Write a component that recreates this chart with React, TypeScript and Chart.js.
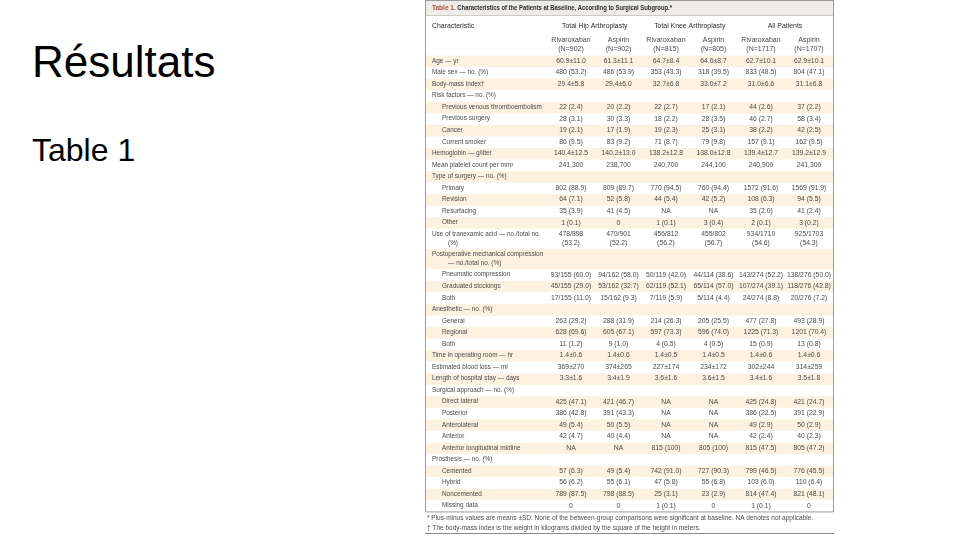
import React, { useEffect, useRef } from 'react';
import { Chart, registerables } from 'chart.js';

Chart.register(...registerables);

// ---------- text content ----------
const slideTitle = 'Résultats';
const slideSubtitle = 'Table 1';
const tableNumber = 'Table 1.';
const tableTitle = ' Characteristics of the Patients at Baseline, According to Surgical Subgroup.*';
const firstHeader = 'Characteristic';
const groupHeaders = ['Total Hip Arthroplasty', 'Total Knee Arthroplasty', 'All Patients'];
const columnHeaders = [
  ['Rivaroxaban', '(N=902)'],
  ['Aspirin', '(N=902)'],
  ['Rivaroxaban', '(N=815)'],
  ['Aspirin', '(N=805)'],
  ['Rivaroxaban', '(N=1717)'],
  ['Aspirin', '(N=1707)'],
];

// ---------- rows ----------
const characteristics: (string | string[])[] = [
  'Age — yr',
  'Male sex — no. (%)',
  'Body-mass index†',
  'Risk factors — no. (%)',
  'Previous venous thromboembolism',
  'Previous surgery',
  'Cancer',
  'Current smoker',
  'Hemoglobin — g/liter',
  'Mean platelet count per mm²',
  'Type of surgery — no. (%)',
  'Primary',
  'Revision',
  'Resurfacing',
  'Other',
  ['Use of tranexamic acid — no./total no.', '(%)'],
  ['Postoperative mechanical compression', '— no./total no. (%)'],
  'Pneumatic compression',
  'Graduated stockings',
  'Both',
  'Anesthetic — no. (%)',
  'General',
  'Regional',
  'Both',
  'Time in operating room — hr',
  'Estimated blood loss — ml',
  'Length of hospital stay — days',
  'Surgical approach — no. (%)',
  'Direct lateral',
  'Posterior',
  'Anterolateral',
  'Anterior',
  'Anterior longitudinal midline',
  'Prosthesis — no. (%)',
  'Cemented',
  'Hybrid',
  'Noncemented',
  'Missing data',
];

const isSubItem = [
  false, false, false, false, true, true, true, true, false, false,
  false, true, true, true, true, false, false, true, true, true,
  false, true, true, true, false, false, false, false, true, true,
  true, true, true, false, true, true, true, true,
];

// ---------- series (one per column) ----------
const rivaroxabanHip: (string | string[])[] = [
  '60.9±11.0', '480 (53.2)', '29.4±5.8', '', '22 (2.4)', '28 (3.1)', '19 (2.1)', '86 (9.5)',
  '140.4±12.5', '241,300', '', '802 (88.9)', '64 (7.1)', '35 (3.9)', '1 (0.1)',
  ['478/898', '(53.2)'], '', '93/155 (60.0)', '45/155 (29.0)', '17/155 (11.0)',
  '', '263 (29.2)', '628 (69.6)', '11 (1.2)', '1.4±0.6', '369±270', '3.3±1.6',
  '', '425 (47.1)', '386 (42.8)', '49 (5.4)', '42 (4.7)', 'NA',
  '', '57 (6.3)', '56 (6.2)', '789 (87.5)', '0',
];
const aspirinHip: (string | string[])[] = [
  '61.3±11.1', '486 (53.9)', '29.4±6.0', '', '20 (2.2)', '30 (3.3)', '17 (1.9)', '83 (9.2)',
  '140.2±13.0', '238,700', '', '809 (89.7)', '52 (5.8)', '41 (4.5)', '0',
  ['470/901', '(52.2)'], '', '94/162 (58.0)', '53/162 (32.7)', '15/162 (9.3)',
  '', '288 (31.9)', '605 (67.1)', '9 (1.0)', '1.4±0.6', '374±265', '3.4±1.9',
  '', '421 (46.7)', '391 (43.3)', '50 (5.5)', '40 (4.4)', 'NA',
  '', '49 (5.4)', '55 (6.1)', '798 (88.5)', '0',
];
const rivaroxabanKnee: (string | string[])[] = [
  '64.7±8.4', '353 (43.3)', '32.7±6.8', '', '22 (2.7)', '18 (2.2)', '19 (2.3)', '71 (8.7)',
  '138.2±12.8', '240,700', '', '770 (94.5)', '44 (5.4)', 'NA', '1 (0.1)',
  ['456/812', '(56.2)'], '', '50/119 (42.0)', '62/119 (52.1)', '7/119 (5.9)',
  '', '214 (26.3)', '597 (73.3)', '4 (0.5)', '1.4±0.5', '227±174', '3.6±1.6',
  '', 'NA', 'NA', 'NA', 'NA', '815 (100)',
  '', '742 (91.0)', '47 (5.8)', '25 (3.1)', '1 (0.1)',
];
const aspirinKnee: (string | string[])[] = [
  '64.6±8.7', '318 (39.5)', '33.0±7.2', '', '17 (2.1)', '28 (3.5)', '25 (3.1)', '79 (9.8)',
  '138.0±12.8', '244,100', '', '760 (94.4)', '42 (5.2)', 'NA', '3 (0.4)',
  ['455/802', '(56.7)'], '', '44/114 (38.6)', '65/114 (57.0)', '5/114 (4.4)',
  '', '205 (25.5)', '596 (74.0)', '4 (0.5)', '1.4±0.5', '234±172', '3.6±1.5',
  '', 'NA', 'NA', 'NA', 'NA', '805 (100)',
  '', '727 (90.3)', '55 (6.8)', '23 (2.9)', '0',
];
const rivaroxabanAll: (string | string[])[] = [
  '62.7±10.1', '833 (48.5)', '31.0±6.6', '', '44 (2.6)', '46 (2.7)', '38 (2.2)', '157 (9.1)',
  '139.4±12.7', '240,900', '', '1572 (91.6)', '108 (6.3)', '35 (2.0)', '2 (0.1)',
  ['934/1710', '(54.6)'], '', '143/274 (52.2)', '107/274 (39.1)', '24/274 (8.8)',
  '', '477 (27.8)', '1225 (71.3)', '15 (0.9)', '1.4±0.6', '302±244', '3.4±1.6',
  '', '425 (24.8)', '386 (22.5)', '49 (2.9)', '42 (2.4)', '815 (47.5)',
  '', '799 (46.5)', '103 (6.0)', '814 (47.4)', '1 (0.1)',
];
const aspirinAll: (string | string[])[] = [
  '62.9±10.1', '804 (47.1)', '31.1±6.8', '', '37 (2.2)', '58 (3.4)', '42 (2.5)', '162 (9.5)',
  '139.2±12.9', '241,300', '', '1569 (91.9)', '94 (5.5)', '41 (2.4)', '3 (0.2)',
  ['925/1703', '(54.3)'], '', '138/276 (50.0)', '118/276 (42.8)', '20/276 (7.2)',
  '', '493 (28.9)', '1201 (70.4)', '13 (0.8)', '1.4±0.6', '314±259', '3.5±1.8',
  '', '421 (24.7)', '391 (22.9)', '50 (2.9)', '40 (2.3)', '805 (47.2)',
  '', '776 (45.5)', '110 (6.4)', '821 (48.1)', '0',
];

const footnotes = [
  '* Plus-minus values are means ±SD. None of the between-group comparisons were significant at baseline. NA denotes not applicable.',
  '† The body-mass index is the weight in kilograms divided by the square of the height in meters.',
];

const series = [rivaroxabanHip, aspirinHip, rivaroxabanKnee, aspirinKnee, rivaroxabanAll, aspirinAll];

// ---------- layout / style constants ----------
const ROW_PX = 11.55; // one text row
const CANVAS_W = 409;
const CANVAS_H = 540;
const TITLE_H = 1.3; // units of rows
const HEADER_H = 3.48;
const DOUBLE_H = 1.75;
const LABEL_X = 7;
const INDENT_X = 17;
const HANG_X = 16;
const COL_X = [146, 193.5, 241, 288.5, 336, 384];
const FONT = '"Liberation Sans", Arial, sans-serif';
const BEIGE = '#fcf2df';
const WHITE = '#ffffff';
const TITLE_BG = '#eeece8';
const TEXT = '#4a4a4a';
const DARK = '#2a2a2a';
const RED = '#b0503a';
const BORDER = '#9a9a9a';

const rowHeights = characteristics.map((c) => (Array.isArray(c) ? DOUBLE_H : 1));
const segmentHeights = [TITLE_H, HEADER_H, ...rowHeights];
const segmentColors = [TITLE_BG, WHITE, ...rowHeights.map((_, i) => (i % 2 === 0 ? BEIGE : WHITE))];
const tableEnd = segmentHeights.reduce((s, h) => s + h, 0);

const tablePlugin = {
  id: 'tableText',
  afterDatasetsDraw(chart: any) {
    const { ctx, chartArea: a, scales } = chart;
    const y = scales.y;
    const L = a.left;
    const R = a.right;
    const py = (v: number) => y.getPixelForValue(v);
    ctx.save();
    ctx.textBaseline = 'middle';

    // title
    ctx.font = `bold 6.5px ${FONT}`;
    ctx.textAlign = 'left';
    ctx.fillStyle = RED;
    const ty = py(TITLE_H / 2 + 0.05);
    ctx.fillText(tableNumber, L + LABEL_X, ty);
    const w = ctx.measureText(tableNumber).width;
    ctx.fillStyle = DARK;
    ctx.fillText(tableTitle, L + LABEL_X + w, ty, 240 - w);

    // header
    ctx.font = `6.9px ${FONT}`;
    ctx.fillStyle = DARK;
    const gy = py(2.25);
    ctx.fillText(firstHeader, L + LABEL_X, gy);
    ctx.textAlign = 'center';
    groupHeaders.forEach((g, i) => {
      ctx.fillText(g, L + (COL_X[i * 2] + COL_X[i * 2 + 1]) / 2, gy);
    });
    ctx.font = `7px ${FONT}`;
    ctx.fillStyle = TEXT;
    columnHeaders.forEach((lines, i) => {
      ctx.fillText(lines[0], L + COL_X[i], py(3.5));
      ctx.fillText(lines[1], L + COL_X[i], py(4.27));
    });

    // rows
    let cum = TITLE_H + HEADER_H;
    characteristics.forEach((label, r) => {
      const h = rowHeights[r];
      const c = cum + h / 2;
      const x0 = L + (isSubItem[r] ? INDENT_X : LABEL_X);
      ctx.font = `6.4px ${FONT}`;
      ctx.fillStyle = TEXT;
      ctx.textAlign = 'left';
      if (Array.isArray(label)) {
        ctx.fillText(label[0], x0, py(c - 0.39));
        ctx.fillText(label[1], x0 + HANG_X, py(c + 0.39));
      } else {
        ctx.fillText(label, x0, py(c));
      }
      ctx.textAlign = 'center';
      ctx.font = `6.8px ${FONT}`;
      series.forEach((col, k) => {
        const v = col[r];
        if (Array.isArray(v)) {
          ctx.fillText(v[0], L + COL_X[k], py(c - 0.39));
          ctx.fillText(v[1], L + COL_X[k], py(c + 0.39));
        } else if (v) {
          ctx.fillText(v, L + COL_X[k], py(c));
        }
      });
      cum += h;
    });

    // borders
    ctx.strokeStyle = BORDER;
    ctx.lineWidth = 1;
    ctx.beginPath();
    ctx.rect(L + 0.5, py(0) + 0.5, R - L - 1, py(tableEnd) - py(0));
    ctx.stroke();
    ctx.strokeStyle = '#cfcac2';
    ctx.beginPath();
    ctx.moveTo(L + 1, Math.round(py(TITLE_H)) + 0.5);
    ctx.lineTo(R - 1, Math.round(py(TITLE_H)) + 0.5);
    ctx.stroke();

    // footnotes
    ctx.textAlign = 'left';
    ctx.fillStyle = TEXT;
    ctx.font = `6.5px ${FONT}`;
    ctx.fillText(footnotes[0], L + 2, py(tableEnd + 0.6));
    ctx.fillText(footnotes[1], L + 2, py(tableEnd + 1.45));
    ctx.strokeStyle = '#8a8a8a';
    ctx.beginPath();
    const by = Math.round(py(tableEnd + 1.9)) + 0.5;
    ctx.moveTo(L, by);
    ctx.lineTo(R, by);
    ctx.stroke();
    ctx.restore();
  },
};

function TableChart() {
  const ref = useRef<HTMLCanvasElement | null>(null);
  useEffect(() => {
    if (!ref.current) return;
    const chart = new Chart(ref.current, {
      type: 'bar',
      data: {
        labels: [slideSubtitle],
        datasets: segmentHeights.map((h, i) => ({
          label: i < 2 ? (i === 0 ? 'title' : 'header') : String(characteristics[i - 2]),
          data: [h],
          backgroundColor: segmentColors[i],
          borderWidth: 0,
          categoryPercentage: 1,
          barPercentage: 1,
        })),
      },
      options: {
        animation: false,
        responsive: false,
        maintainAspectRatio: false,
        layout: { padding: 0 },
        plugins: { legend: { display: false }, tooltip: { enabled: false }, title: { display: false } },
        scales: {
          x: { stacked: true, display: false },
          y: { stacked: true, display: false, reverse: true, min: 0, max: CANVAS_H / ROW_PX },
        },
      },
      plugins: [tablePlugin],
    });
    return () => chart.destroy();
  }, []);
  return <canvas ref={ref} width={CANVAS_W} height={CANVAS_H} style={{ width: CANVAS_W, height: CANVAS_H, display: 'block' }} />;
}

export default function App() {
  return (
    <div style={{ position: 'fixed', left: 0, top: 0, width: 960, height: 540, background: '#fff', overflow: 'hidden', fontFamily: FONT }}>
      <div style={{ position: 'absolute', left: 32, top: 40, fontSize: 44, lineHeight: 1, color: '#000', whiteSpace: 'nowrap' }}>{slideTitle}</div>
      <div style={{ position: 'absolute', left: 32, top: 134, fontSize: 32, lineHeight: 1, color: '#000', whiteSpace: 'nowrap' }}>{slideSubtitle}</div>
      <div style={{ position: 'absolute', left: 425, top: 0 }}>
        <TableChart />
      </div>
    </div>
  );
}
